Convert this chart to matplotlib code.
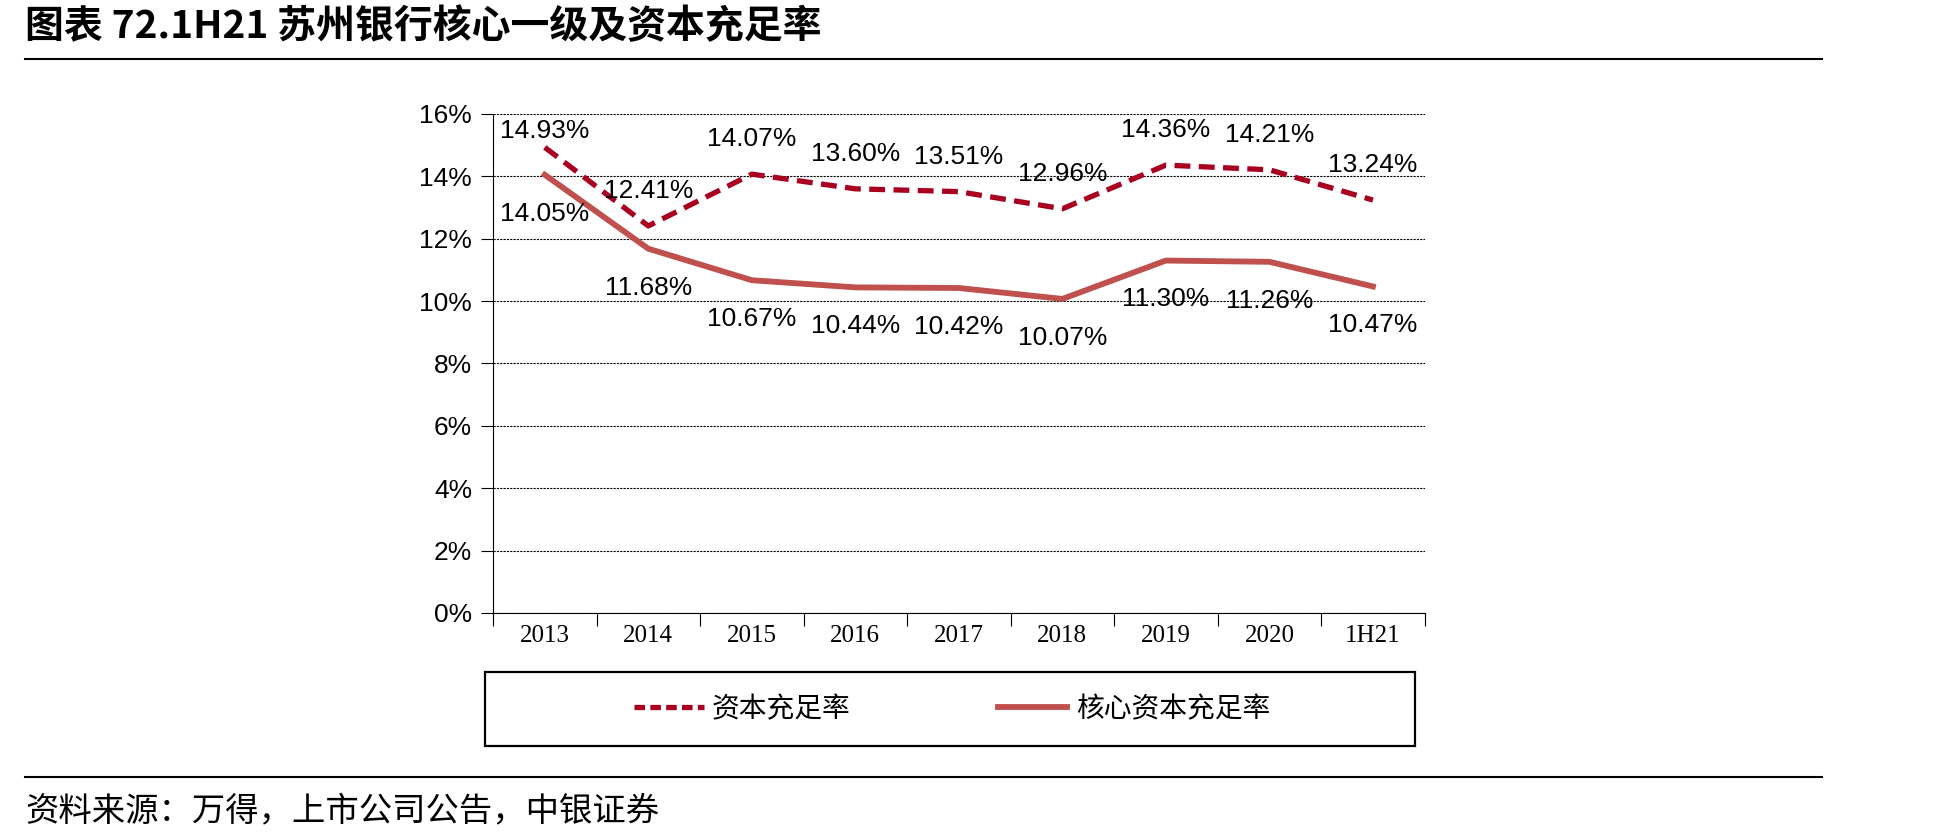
import matplotlib.pyplot as plt
from matplotlib.lines import Line2D
from matplotlib.patches import Rectangle
import numpy as np

cjk = ['Noto Sans CJK SC', 'DejaVu Sans']
plt.rcParams['font.family'] = ['Liberation Sans', 'DejaVu Sans']

categories = ['2013', '2014', '2015', '2016', '2017', '2018', '2019', '2020', '1H21']
car = [14.93, 12.41, 14.07, 13.60, 13.51, 12.96, 14.36, 14.21, 13.24]      # 资本充足率
core_car = [14.05, 11.68, 10.67, 10.44, 10.42, 10.07, 11.30, 11.26, 10.47]  # 核心资本充足率
yticks = [0, 2, 4, 6, 8, 10, 12, 14, 16]

c_dash = '#A8001E'
c_solid = '#C0504D'

fig = plt.figure(figsize=(19.41, 8.38), dpi=100)
ax = fig.add_axes([0.254, 0.2685, 0.480, 0.5955])

x = np.arange(len(categories))
ax.plot(x, car, color=c_dash, lw=3.8, ls=(0, (3, 1.6)), zorder=3)
ax.plot(x, core_car, color=c_solid, lw=4.2, zorder=3)

for i in range(len(x)):
    up = 12 if i == 0 else 25   # first label squeezed under the top
    ax.annotate('%.2f%%' % car[i], (x[i], car[i]), xytext=(0, up), textcoords='offset points',
                ha='center', va='center', fontsize=19)
    ax.annotate('%.2f%%' % core_car[i], (x[i], core_car[i]), xytext=(0, -28), textcoords='offset points',
                ha='center', va='center', fontsize=19)

ax.set_xlim(-0.5, len(x) - 0.5)
ax.set_ylim(0, 16)
ax.set_yticks(yticks)
ax.set_yticklabels(['%d%%' % v for v in yticks], fontsize=19)
ax.yaxis.grid(True, color='black', ls=(0, (2, 1)), lw=0.8)
ax.set_axisbelow(True)
ax.tick_params(axis='y', length=9, width=0.8, pad=6)

ax.set_xticks(np.arange(-0.5, len(x), 1.0))
ax.set_xticklabels([])
ax.set_xticks(x, minor=True)
ax.set_xticklabels(categories, minor=True, fontsize=18, family='Liberation Serif')
ax.tick_params(axis='x', which='major', length=9, width=0.8, direction='out')
ax.tick_params(axis='x', which='minor', length=0, pad=9)

for s in ['top', 'right']:
    ax.spines[s].set_visible(False)
ax.spines['left'].set_linewidth(0.8)
ax.spines['bottom'].set_linewidth(0.8)

# legend box
fig.patches.append(Rectangle((485 / 1941, 1 - 746 / 838), 930 / 1941, 74 / 838,
                             transform=fig.transFigure, fill=False, ec='black', lw=1.6))
handles = [Line2D([], [], color=c_dash, lw=3.8, ls=(0, (2, 1))),
           Line2D([], [], color=c_solid, lw=4.2)]
fig.legend(handles, ['资本充足率', '核心资本充足率'], loc='center', ncol=2,
           bbox_to_anchor=(952 / 1941, 1 - 709 / 838), frameon=False,
           prop={'family': cjk, 'size': 20}, handlelength=2.5, handletextpad=0.3,
           columnspacing=5.3)

# title, rules, source
fig.text(25 / 1941, 1 - 27 / 838, '图表 72.1H21 苏州银行核心一级及资本充足率', fontsize=28,
         fontweight='bold', family=cjk, va='center', ha='left')
fig.add_artist(Line2D([25 / 1941, 1822 / 1941], [1 - 59 / 838] * 2, color='black', lw=1.5))
fig.add_artist(Line2D([25 / 1941, 1822 / 1941], [1 - 777 / 838] * 2, color='black', lw=1.5))
fig.text(25 / 1941, 1 - 811 / 838, '资料来源：万得，上市公司公告，中银证券', fontsize=24,
         family=cjk, va='center', ha='left')

fig.savefig('out.png', dpi=100)
